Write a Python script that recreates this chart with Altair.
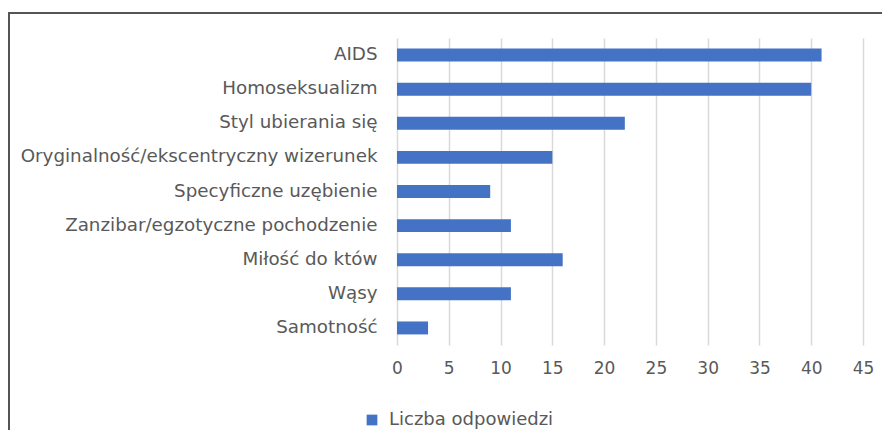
import altair as alt
import pandas as pd

categories = [
    "AIDS",
    "Homoseksualizm",
    "Styl ubierania się",
    "Oryginalność/ekscentryczny wizerunek",
    "Specyficzne uzębienie",
    "Zanzibar/egzotyczne pochodzenie",
    "Miłość do któw ",
    "Wąsy ",
    "Samotność",
]
values = [41, 40, 22, 15, 9, 11, 16, 11, 3]
series_name = "Liczba odpowiedzi"
x_ticks = [0, 5, 10, 15, 20, 25, 30, 35, 40, 45]

df = pd.DataFrame({"kat": categories, "val": values, "seria": [series_name] * len(values)})

FONT = "DejaVu Sans"
GRAY = "#595959"

bars = alt.Chart(df).mark_bar(color="#4472C4").encode(
    y=alt.Y(
        "kat:N",
        sort=categories,
        title=None,
        scale=alt.Scale(paddingInner=0.62, paddingOuter=0.31),
        axis=alt.Axis(
            domain=False, ticks=False, labelPadding=20, labelFontSize=18.3,
            labelFont=FONT, labelColor=GRAY, labelLimit=500,
        ),
    ),
    x=alt.X(
        "val:Q",
        title=None,
        scale=alt.Scale(domain=[0, 45], nice=False),
        axis=alt.Axis(
            values=x_ticks, domain=False, ticks=False, labelPadding=15,
            labelFontSize=17, labelFont=FONT, labelColor=GRAY, labelFlush=False,
            grid=True, gridColor="#d9d9d9", gridWidth=1.5,
        ),
    ),
    color=alt.Color(
        "seria:N",
        scale=alt.Scale(domain=[series_name], range=["#4472C4"]),
        legend=alt.Legend(
            title=None, orient="none", legendX=-34, legendY=373,
            symbolType="square", symbolSize=115, symbolStrokeWidth=0,
            labelFontSize=18, labelFont=FONT, labelColor=GRAY, labelOffset=8,
            labelLimit=400,
        ),
    ),
)

frame_left = alt.Chart(df).mark_rule(color="#555555", strokeWidth=2).encode(
    x=alt.value(-388), y=alt.value(-25), y2=alt.value(420)
)
frame_top = alt.Chart(df).mark_rule(color="#555555", strokeWidth=2).encode(
    x=alt.value(-389), x2=alt.value(520), y=alt.value(-25)
)

chart = alt.layer(bars, frame_left, frame_top).properties(
    width=466,
    height=307,
    padding={"left": 389, "top": 30, "right": 19, "bottom": 85},
    autosize=alt.AutoSizeParams(type="none"),
).configure_view(stroke=None)

chart.save("out.html", embed_options={"renderer": "svg", "actions": False})
